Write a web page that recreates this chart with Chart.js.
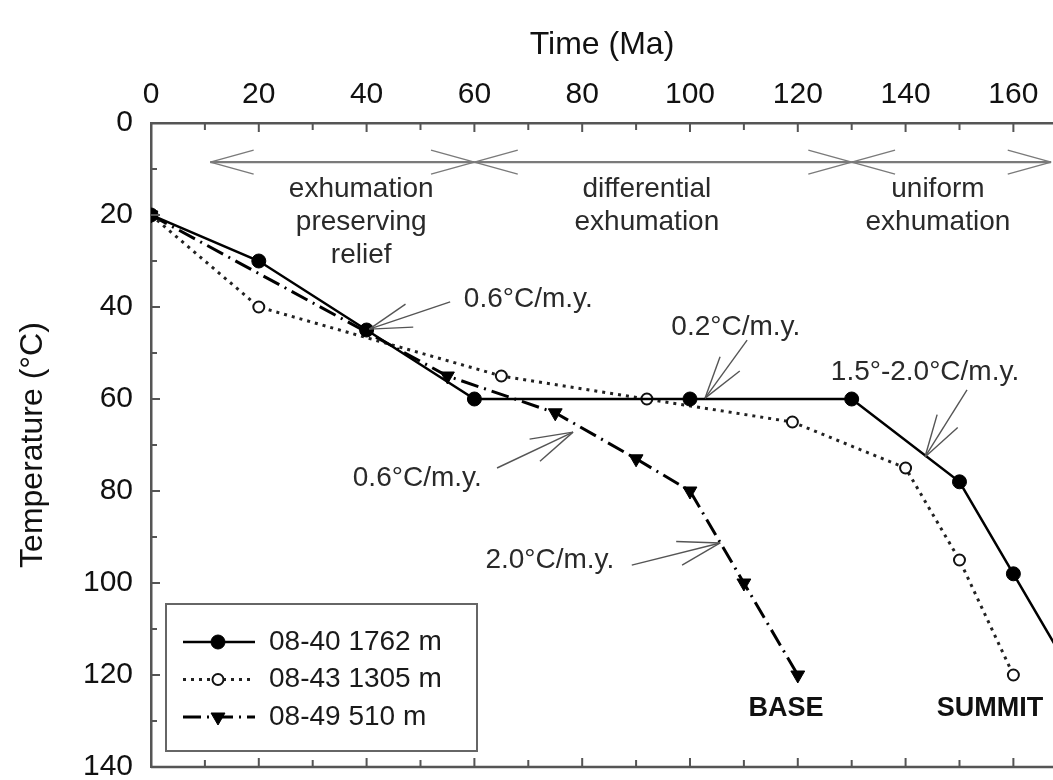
<!DOCTYPE html>
<html lang="en">
<head>
<meta charset="UTF-8">
<title>Thermal history</title>
<script src="https://cdn.jsdelivr.net/npm/chart.js"></script>
<style>
  html, body { margin: 0; padding: 0; background: #fff; }
  #wrap { width: 1053px; height: 780px; }
</style>
</head>
<body>
<div id="wrap"><canvas id="tempChart"></canvas></div>
<script>
// sample 08-40 (summit), 1762 m
const time0840 = [0, 20, 40, 60, 100, 130, 150, 160, 170];
const temp0840 = [20, 30, 45, 60, 60, 60, 78, 98, 118];
// sample 08-43, 1305 m
const time0843 = [0, 20, 65, 92, 119, 140, 150, 160];
const temp0843 = [20, 40, 55, 60, 65, 75, 95, 120];
// sample 08-49 (base), 510 m
const time0849 = [0, 55, 75, 90, 100, 110, 120];
const temp0849 = [20, 55, 63, 73, 80, 100, 120];

const seriesNames = ['08-40 1762 m', '08-43 1305 m', '08-49 510 m'];

// exhumation phases along the top (Ma)
const phaseBreaks = [11, 60, 130, 167];
const phaseNames = [
    ['exhumation', 'preserving', 'relief'],
    ['differential', 'exhumation'],
    ['uniform', 'exhumation']
];
const phaseCenters = [39, 92, 146];

// cooling rate notes: text, text centre [Ma, °C], arrow start, arrow tip
const rateNotes = [
    { text: '0.6°C/m.y.', at: [70, 38.3], from: [55.5, 38.9], tip: [40.5, 44.8] },
    { text: '0.2°C/m.y.', at: [108.5, 44.4], from: [110.6, 47.2], tip: [102.8, 59.8] },
    { text: '1.5°-2.0°C/m.y.', at: [143.6, 54.1], from: [151.4, 58], tip: [143.6, 72.6] },
    { text: '0.6°C/m.y.', at: [49.4, 77.2], from: [64.2, 75], tip: [78.3, 67.2] },
    { text: '2.0°C/m.y.', at: [74, 95], from: [89.2, 96.1], tip: [105.6, 91.3] }
];

const FONT = "'Liberation Sans', Arial, sans-serif";

function toPoints(xs, ys) {
    return xs.map((x, i) => ({ x: x, y: ys[i] }));
}

function barbs(ctx, tipX, tipY, fromX, fromY, len, spread) {
    const ang = Math.atan2(fromY - tipY, fromX - tipX);
    [-1, 1].forEach(s => {
        ctx.beginPath();
        ctx.moveTo(tipX, tipY);
        ctx.lineTo(tipX + len * Math.cos(ang + s * spread), tipY + len * Math.sin(ang + s * spread));
        ctx.stroke();
    });
}

function drawMarker(ctx, ds, x, y) {
    const r = ds.pointRadius;
    ctx.save();
    ctx.fillStyle = ds.pointBackgroundColor;
    ctx.strokeStyle = ds.pointBorderColor;
    ctx.lineWidth = ds.pointBorderWidth;
    ctx.beginPath();
    if (ds.pointStyle === 'triangle') {
        ctx.moveTo(x - r * 0.87, y - r * 0.5);
        ctx.lineTo(x + r * 0.87, y - r * 0.5);
        ctx.lineTo(x, y + r);
        ctx.closePath();
    } else {
        ctx.arc(x, y, r, 0, Math.PI * 2);
    }
    ctx.fill();
    ctx.stroke();
    ctx.restore();
}

const decorPlugin = {
    id: 'decor',
    afterDraw(chart) {
        const ctx = chart.ctx;
        const xs = chart.scales.x, ys = chart.scales.y;
        const ca = chart.chartArea;
        const px = v => xs.getPixelForValue(v);
        const py = v => ys.getPixelForValue(v);

        ctx.save();
        // bottom frame line and inward ticks
        ctx.strokeStyle = '#555';
        ctx.lineWidth = 2.5;
        ctx.beginPath();
        ctx.moveTo(ca.left, ca.bottom);
        ctx.lineTo(ca.right, ca.bottom);
        ctx.stroke();
        ctx.lineWidth = 2;
        xs.ticks.forEach(t => {
            if (t.value % 10 !== 0) return;
            const len = t.value % 20 === 0 ? 9 : 7;
            const x = px(t.value);
            ctx.beginPath();
            ctx.moveTo(x, ca.top); ctx.lineTo(x, ca.top + len);
            ctx.moveTo(x, ca.bottom); ctx.lineTo(x, ca.bottom - len);
            ctx.stroke();
        });
        ys.ticks.forEach(t => {
            const len = t.value % 20 === 0 ? 9 : 6;
            const y = py(t.value);
            ctx.beginPath();
            ctx.moveTo(ca.left, y); ctx.lineTo(ca.left + len, y);
            ctx.stroke();
        });

        // phase arrows
        const yBand = py(8.5);
        ctx.strokeStyle = '#7a7a7a';
        for (let i = 0; i < phaseBreaks.length - 1; i++) {
            const a = px(phaseBreaks[i]), b = px(phaseBreaks[i + 1]);
            ctx.lineWidth = 2.2;
            ctx.beginPath();
            ctx.moveTo(a, yBand); ctx.lineTo(b, yBand);
            ctx.stroke();
            ctx.lineWidth = 1.4;
            barbs(ctx, a, yBand, b, yBand, 45, 0.27);
            barbs(ctx, b, yBand, a, yBand, 45, 0.27);
        }
        ctx.fillStyle = '#2a2a2a';
        ctx.font = '28px ' + FONT;
        ctx.textAlign = 'center';
        ctx.textBaseline = 'middle';
        phaseNames.forEach((lines, i) => {
            lines.forEach((s, j) => ctx.fillText(s, px(phaseCenters[i]), py(14.5) + j * 33));
        });

        // cooling rate notes
        rateNotes.forEach(n => {
            ctx.fillStyle = '#2a2a2a';
            ctx.fillText(n.text, px(n.at[0]), py(n.at[1]));
            const fx = px(n.from[0]), fy = py(n.from[1]);
            const tx = px(n.tip[0]), ty = py(n.tip[1]);
            ctx.strokeStyle = '#555';
            ctx.lineWidth = 1.4;
            ctx.beginPath();
            ctx.moveTo(fx, fy); ctx.lineTo(tx, ty);
            ctx.stroke();
            barbs(ctx, tx, ty, fx, fy, 44, 0.28);
        });

        // sample position labels
        ctx.fillStyle = '#111';
        ctx.font = 'bold 27px ' + FONT;
        ctx.fillText('BASE', px(117.8), py(127.2));
        ctx.textAlign = 'left';
        ctx.fillText('SUMMIT', px(145.8), py(127.2));

        // legend box
        const lg = { left: ca.left + 15, top: ca.bottom - 163, w: 311, h: 147 };
        ctx.fillStyle = '#fff';
        ctx.fillRect(lg.left, lg.top, lg.w, lg.h);
        ctx.strokeStyle = '#666';
        ctx.lineWidth = 2;
        ctx.strokeRect(lg.left, lg.top, lg.w, lg.h);
        chart.data.datasets.forEach((ds, i) => {
            const y = lg.top + 38 + i * 37.5;
            ctx.save();
            ctx.strokeStyle = ds.borderColor;
            ctx.lineWidth = ds.borderWidth;
            ctx.setLineDash(ds.borderDash || []);
            ctx.beginPath();
            ctx.moveTo(lg.left + 17, y);
            ctx.lineTo(lg.left + 89, y);
            ctx.stroke();
            ctx.restore();
            drawMarker(ctx, ds, lg.left + 52, y);
            ctx.fillStyle = '#1a1a1a';
            ctx.font = '28px ' + FONT;
            ctx.textAlign = 'left';
            ctx.fillText(ds.label, lg.left + 103, y);
        });
        ctx.restore();
    }
};

const ctx = document.getElementById('tempChart').getContext('2d');
const tempChart = new Chart(ctx, {
    type: 'line',
    data: {
        datasets: [
            {
                label: seriesNames[0],
                data: toPoints(time0840, temp0840),
                borderColor: '#000',
                borderWidth: 2.5,
                pointStyle: 'circle',
                pointRadius: 7,
                pointBackgroundColor: '#000',
                pointBorderColor: '#000',
                pointBorderWidth: 1,
                order: 1
            },
            {
                label: seriesNames[1],
                data: toPoints(time0843, temp0843),
                borderColor: '#222',
                borderWidth: 3,
                borderDash: [3, 5],
                pointStyle: 'circle',
                pointRadius: 5.5,
                pointBackgroundColor: '#fff',
                pointBorderColor: '#111',
                pointBorderWidth: 2,
                order: 2
            },
            {
                label: seriesNames[2],
                data: toPoints(time0849, temp0849),
                borderColor: '#000',
                borderWidth: 3,
                borderDash: [18, 6, 2, 6],
                pointStyle: 'triangle',
                rotation: 180,
                pointRadius: 8,
                pointBackgroundColor: '#000',
                pointBorderColor: '#000',
                pointBorderWidth: 1,
                order: 3
            }
        ]
    },
    options: {
        responsive: true,
        maintainAspectRatio: false,
        animation: false,
        layout: { autoPadding: false, padding: { left: 0, right: 0, top: 0, bottom: 13 } },
        elements: { line: { tension: 0 } },
        plugins: {
            legend: { display: false },
            tooltip: { enabled: false }
        },
        scales: {
            x: {
                type: 'linear',
                position: 'top',
                min: 0,
                max: 167.35,
                grid: { display: false, drawTicks: false },
                border: { display: true, color: '#555', width: 2.5 },
                ticks: {
                    stepSize: 10,
                    includeBounds: false,
                    autoSkip: false,
                    maxRotation: 0,
                    padding: 10,
                    color: '#111',
                    font: { family: FONT, size: 30 },
                    callback: v => (v % 20 === 0 ? v : '')
                },
                title: {
                    display: true,
                    text: 'Time (Ma)',
                    color: '#111',
                    font: { family: FONT, size: 32 },
                    padding: { top: 26, bottom: 0 }
                },
                afterFit: s => { s.height = 123; s.paddingLeft = 0; s.paddingRight = 0; }
            },
            y: {
                type: 'linear',
                reverse: true,
                min: 0,
                max: 140,
                grid: { display: false, drawTicks: false },
                border: { display: true, color: '#555', width: 2.5 },
                ticks: {
                    stepSize: 10,
                    autoSkip: false,
                    padding: 18,
                    color: '#111',
                    font: { family: FONT, size: 30 },
                    callback: v => (v % 20 === 0 ? v : '')
                },
                title: {
                    display: true,
                    text: 'Temperature (°C)',
                    color: '#111',
                    font: { family: FONT, size: 32 },
                    padding: { top: 14, bottom: 0 }
                },
                afterFit: s => { s.width = 151; s.paddingTop = 0; s.paddingBottom = 0; }
            }
        }
    },
    plugins: [decorPlugin]
});
</script>
</body>
</html>
